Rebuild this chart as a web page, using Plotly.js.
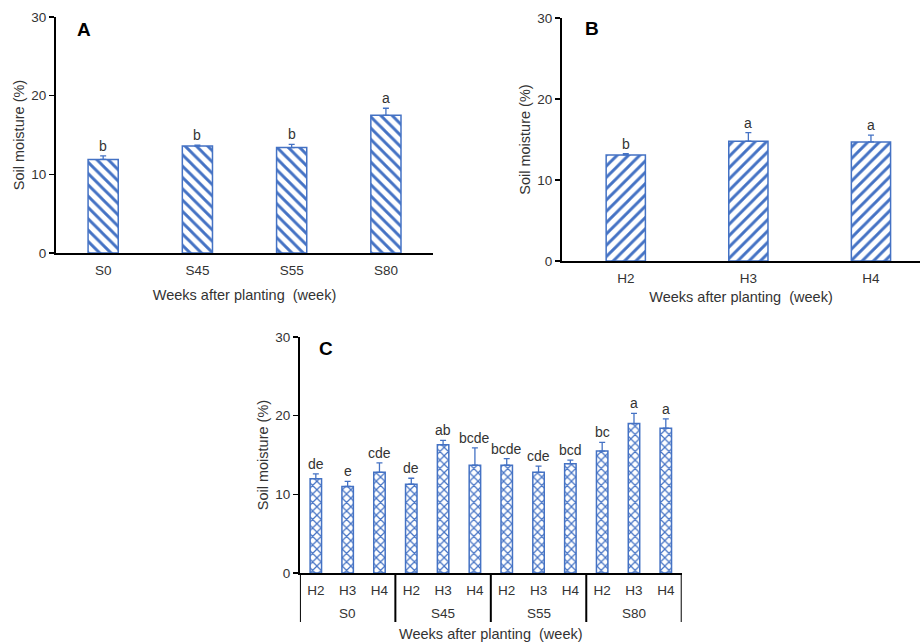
<!DOCTYPE html>
<html>
<head>
<meta charset="utf-8">
<script src="https://cdn.plot.ly/plotly-3.0.1.min.js"></script>
<style>
  html, body { margin: 0; padding: 0; background: #fff; }
  #chart { width: 920px; height: 644px; }
</style>
</head>
<body>
<div id="chart"></div>
<script>
// Panel A: soil moisture by treatment S
const aCats = ['S0', 'S45', 'S55', 'S80'];
const aMoisture = [11.9, 13.6, 13.4, 17.5];
const aErr = [0.45, 0.1, 0.4, 0.9];
const aLetters = ['b', 'b', 'b', 'a'];

// Panel B: soil moisture by harvest H
const bCats = ['H2', 'H3', 'H4'];
const bMoisture = [13.1, 14.8, 14.7];
const bErr = [0.15, 1.05, 0.85];
const bLetters = ['b', 'a', 'a'];

// Panel C: interaction S x H (three harvests inside each S group)
const cGroupNames = ['S0', 'S45', 'S55', 'S80'];
const cSubs = ['H2', 'H3', 'H4', 'H2', 'H3', 'H4', 'H2', 'H3', 'H4', 'H2', 'H3', 'H4'];
const cMoisture = [12.0, 11.0, 12.8, 11.3, 16.3, 13.7, 13.7, 12.8, 13.9, 15.5, 19.0, 18.4];
const cErr = [0.6, 0.65, 1.2, 0.75, 0.55, 2.2, 0.85, 0.8, 0.45, 1.1, 1.3, 1.2];
const cLetters = ['de', 'e', 'cde', 'de', 'ab', 'bcde', 'bcde', 'cde', 'bcd', 'bc', 'a', 'a'];

const BLUE = '#4472C4';
const FONT = 'Liberation Sans, Arial, sans-serif';
const zeros = n => new Array(n).fill(0);
const cIdx = cSubs.map((s, i) => i);
const perGroup = cSubs.length / cGroupNames.length;

function barTrace(x, y, err, xa, ya, shape, size, width) {
  return {
    type: 'bar', x: x, y: y, xaxis: xa, yaxis: ya, width: width,
    marker: {
      color: '#ffffff',
      line: { color: BLUE, width: 1.5 },
      pattern: { shape: shape, fgcolor: BLUE, bgcolor: '#ffffff', size: size, solidity: 0.36, fillmode: 'replace' }
    },
    error_y: { type: 'data', symmetric: false, array: err, arrayminus: zeros(err.length),
               color: BLUE, thickness: 1.3, width: 3 },
    hoverinfo: 'skip', showlegend: false
  };
}

const traces = [
  barTrace(aCats, aMoisture, aErr, 'x', 'y', '\\', 8, 0.32),
  barTrace(bCats, bMoisture, bErr, 'x2', 'y2', '/', 8, 0.32),
  barTrace(cIdx, cMoisture, cErr, 'x3', 'y3', 'x', 6, 0.36)
];

const tickFont = { family: FONT, size: 13.5, color: '#333' };
const titleFont = { family: FONT, size: 14.5, color: '#333' };

function yAxis(domain, anchor) {
  return {
    domain: domain, anchor: anchor, range: [0, 30], tickvals: [0, 10, 20, 30],
    showgrid: false, zeroline: false, showline: true, linecolor: '#000', linewidth: 2,
    ticks: 'outside', ticklen: 5, tickwidth: 1.5, tickcolor: '#000',
    tickfont: tickFont, fixedrange: true,
    title: { text: 'Soil moisture (%)', font: titleFont, standoff: 3 }
  };
}

function xAxis(domain, anchor, range, standoff) {
  return {
    domain: domain, anchor: anchor, range: range, type: 'category',
    showgrid: false, zeroline: false, showline: true, linecolor: '#000', linewidth: 2,
    ticks: '', tickfont: tickFont, ticklabelstandoff: 4, fixedrange: true,
    title: { text: 'Weeks after planting\u00a0 (week)', font: titleFont, standoff: standoff }
  };
}

const annotations = [];
function addLetters(xs, ys, errs, letters, xref, yref) {
  xs.forEach((x, i) => annotations.push({
    x: x, y: ys[i] + errs[i], xref: xref, yref: yref, text: letters[i],
    showarrow: false, yanchor: 'bottom', yshift: 0,
    font: { family: FONT, size: 14, color: '#333' }
  }));
}
addLetters(aCats.map((c, i) => i), aMoisture, aErr, aLetters, 'x', 'y');
addLetters(bCats.map((c, i) => i), bMoisture, bErr, bLetters, 'x2', 'y2');
addLetters(cIdx, cMoisture, cErr, cLetters, 'x3', 'y3');

// Panel labels
[['A', 'x domain', 'y domain', 0.05, 0.945], ['B', 'x2 domain', 'y2 domain', 0.059, 0.955],
 ['C', 'x3 domain', 'y3 domain', 0.045, 0.953]].forEach(p => annotations.push({
  text: '<b>' + p[0] + '</b>', xref: p[1], yref: p[2], x: p[3], y: p[4],
  xanchor: 'left', yanchor: 'middle', showarrow: false,
  font: { family: FONT, size: 19, color: '#000' }
}));

// Group labels and group dividers under panel C
const shapes = [];
cGroupNames.forEach((g, k) => {
  annotations.push({
    text: g, xref: 'x3', yref: 'y3 domain', x: k * perGroup + (perGroup - 1) / 2, y: -0.17,
    xanchor: 'center', yanchor: 'middle', showarrow: false, font: tickFont
  });
});
for (let k = 0; k <= cGroupNames.length; k++) {
  const xb = k * perGroup - 0.5;
  shapes.push({ type: 'line', xref: 'x3', yref: 'y3 domain', x0: xb, x1: xb, y0: 0, y1: -0.208,
                line: { color: '#000', width: 2 } });
}

const xC = xAxis([0.326, 0.741], 'y3', [-0.5, cSubs.length - 0.5], 32);
xC.type = 'linear';
xC.tickvals = cIdx;
xC.ticktext = cSubs;

const layout = {
  width: 920, height: 644,
  margin: { l: 0, r: 0, t: 0, b: 0 },
  paper_bgcolor: '#fff', plot_bgcolor: '#fff',
  bargap: 0.68,
  xaxis: xAxis([0.0609, 0.4707], 'y', [-0.5, 3.5], 13),
  yaxis: yAxis([0.6071, 0.9736], 'x'),
  xaxis2: xAxis([0.6109, 1.0], 'y2', [-0.52, 2.4], 7),
  yaxis2: yAxis([0.5947, 0.972], 'x2'),
  xaxis3: xC,
  yaxis3: yAxis([0.1102, 0.4767], 'x3'),
  annotations: annotations,
  shapes: shapes
};

Plotly.newPlot('chart', traces, layout, { displayModeBar: false, staticPlot: true });
</script>
</body>
</html>
